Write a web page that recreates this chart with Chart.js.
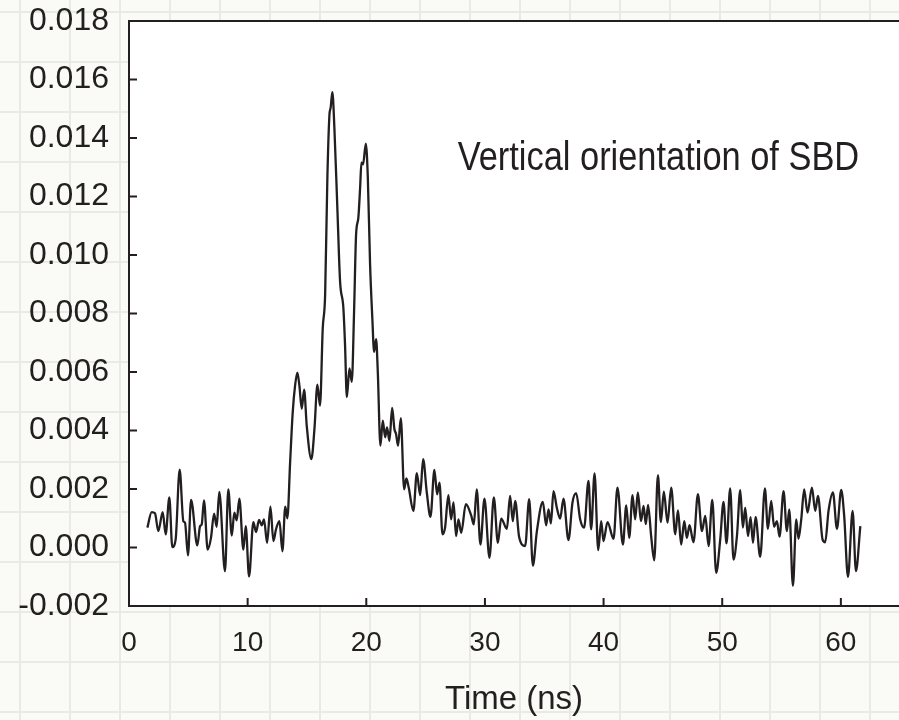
<!DOCTYPE html>
<html>
<head>
<meta charset="utf-8">
<title>SBD signal</title>
<script src="https://cdn.jsdelivr.net/npm/chart.js@4.4.1/dist/chart.umd.min.js"></script>
<style>
  html, body { margin: 0; padding: 0; overflow: hidden; }
  body {
    width: 899px;
    height: 720px;
    /* graph paper behind the figure */
    background-color: #fafaf6;
    background-image:
      linear-gradient(to right, #eaeae4 2px, transparent 2px),
      linear-gradient(to bottom, #eaeae4 2px, transparent 2px);
    background-size: 50px 50px;
    background-position: 19px 11px;
  }
  #wrap { position: relative; width: 899px; height: 720px; }
</style>
</head>
<body>
<div id="wrap"><canvas id="sbdChart"></canvas></div>
<script>
// --- Data ---
const TIME_NS = [
  1.55, 1.91, 2.19, 2.47, 2.84, 3.09, 3.40, 3.65, 3.93, 4.27, 4.58, 4.72, 4.97, 5.23, 5.76, 5.99,
  6.13, 6.32, 6.63, 6.91, 7.17, 7.39, 7.61, 8.09, 8.37, 8.66, 8.88, 9.08, 9.30, 9.64, 9.84, 10.12,
  10.48, 10.71, 10.96, 11.19, 11.38, 11.64, 11.92, 12.17, 12.39, 12.68, 12.93, 13.17, 13.35,
  13.58, 13.80, 14.00, 14.19, 14.36, 14.56, 14.76, 14.98, 15.37, 15.63, 15.88, 16.10, 16.33,
  16.53, 16.72, 16.89, 17.00, 17.14, 17.31, 17.57, 17.79, 18.07, 18.21, 18.36, 18.58, 18.78,
  18.97, 19.14, 19.33, 19.48, 19.59, 19.73, 19.96, 20.13, 20.32, 20.51, 20.66, 20.83, 20.97,
  21.19, 21.39, 21.59, 21.75, 21.95, 22.18, 22.37, 22.51, 22.68, 22.91, 23.19, 23.38, 23.58,
  23.97, 24.26, 24.54, 24.79, 25.10, 25.41, 25.74, 25.97, 26.17, 26.42, 26.64, 26.92, 27.15,
  27.35, 27.57, 27.77, 28.00, 28.39, 28.84, 29.06, 29.31, 29.62, 29.96, 30.38, 30.75, 31.09,
  31.37, 31.85, 32.12, 32.35, 32.55, 32.88, 33.39, 33.73, 34.04, 34.38, 34.88, 35.16, 35.36,
  35.56, 35.78, 36.06, 36.34, 36.62, 37.04, 37.38, 37.69, 38.03, 38.36, 38.73, 38.95, 39.24,
  39.55, 39.80, 39.99, 40.33, 40.84, 41.17, 41.63, 41.91, 42.16, 42.44, 42.66, 42.89, 43.15,
  43.37, 43.56, 43.75, 44.01, 44.27, 44.58, 44.83, 45.08, 45.39, 45.70, 46.04, 46.27, 46.54,
  46.80, 47.02, 47.24, 47.58, 47.95, 48.29, 48.57, 48.85, 49.16, 49.49, 49.83, 50.11, 50.36,
  50.67, 50.95, 51.24, 51.52, 51.74, 51.94, 52.17, 52.39, 52.59, 52.81, 53.20, 53.60, 53.85,
  54.13, 54.37, 54.61, 54.83, 55.17, 55.45, 55.65, 55.96, 56.24, 56.43, 56.66, 56.91, 57.19,
  57.56, 57.84, 58.07, 58.46, 58.68, 58.96, 59.33, 59.67, 60.03, 60.28, 60.60, 60.99, 61.27, 61.64
];
const SIGNAL = [
  0.00068, 0.00121, 0.00117, 0.00056, 0.00121, 0.00045, 0.00171, 0.00001, 0.00027, 0.00266,
  0.00090, 0.00085, -0.00027, 0.00163, 0.00007, 0.00073, 0.00079, 0.00161, -0.00007, 0.00033,
  0.00116, 0.00071, 0.00190, -0.00081, 0.00199, 0.00041, 0.00119, 0.00093, 0.00167, -0.00007,
  0.00073, -0.00099, 0.00087, 0.00053, 0.00094, 0.00076, 0.00096, 0.00016, 0.00140, 0.00022,
  0.00062, 0.00090, -0.00013, 0.00140, 0.00100,
  0.00291, 0.00463, 0.00554, 0.00598, 0.00554, 0.00474, 0.00540, 0.00417, 0.00302, 0.00405,
  0.00557, 0.00485, 0.00749, 0.00863, 0.01264, 0.01476, 0.01505, 0.01557, 0.01436, 0.01150,
  0.00910, 0.00818, 0.00692, 0.00514, 0.00612, 0.00566, 0.00806, 0.01070, 0.01127, 0.01230,
  0.01316, 0.01310, 0.01381, 0.01264, 0.00967, 0.00783, 0.00669, 0.00712, 0.00600, 0.00348,
  0.00434, 0.00377, 0.00411, 0.00365, 0.00477, 0.00405, 0.00388, 0.00348, 0.00442, 0.00199,
  0.00236, 0.00204, 0.00125, 0.00254, 0.00179, 0.00302, 0.00188, 0.00105, 0.00265, 0.00182,
  0.00222, 0.00045, 0.00068, 0.00179, 0.00096, 0.00154, 0.00039, 0.00096, 0.00050, 0.00148,
  0.00110, 0.00079, 0.00199, 0.00010, 0.00167, -0.00035, 0.00171, 0.00016, 0.00099, 0.00064,
  0.00176, 0.00090, 0.00159, 0.00037, 0.00005, 0.00165, -0.00062, 0.00056, 0.00156, 0.00076,
  0.00130, 0.00082, 0.00193, 0.00136, 0.00099, 0.00167, 0.00025, 0.00154, 0.00186, 0.00096,
  0.00068, 0.00228, 0.00062, 0.00253, -0.00009, 0.00090, 0.00022, 0.00087, 0.00030, 0.00205,
  0.00010, 0.00144, 0.00033, 0.00179, 0.00096, 0.00188, 0.00090, 0.00142, 0.00080, 0.00146,
  0.00039, -0.00044, 0.00247, 0.00087, 0.00191, 0.00085, 0.00205, 0.00045, 0.00127, 0.00010,
  0.00090, 0.00033, 0.00076, 0.00018, 0.00182, 0.00056, 0.00108, 0.00005, 0.00163, -0.00087,
  0.00027, 0.00156, 0.00014, 0.00202, -0.00041, 0.00039, 0.00196, 0.00068, 0.00136, 0.00039,
  0.00104, 0.00016, 0.00105, -0.00032, 0.00202, 0.00064, 0.00159, 0.00071, 0.00090, 0.00037,
  0.00193, 0.00056, 0.00130, -0.00131, 0.00096, 0.00030, 0.00096, 0.00199, 0.00119, 0.00205,
  0.00125, 0.00176, 0.00027, 0.00018, 0.00125, 0.00188, 0.00064, 0.00197, 0.00108, -0.00101,
  0.00125, -0.00081, 0.00073
];

// Axis ticks
const X_TICKS = [0, 10, 20, 30, 40, 50, 60];
const Y_TICKS = [-0.002, 0.000, 0.002, 0.004, 0.006, 0.008, 0.010, 0.012, 0.014, 0.016, 0.018];

// Label in the plot
const NOTE_TEXT = 'Vertical orientation of SBD';
const NOTE_AT = { x: 27.7, y: 0.0129 };

const INK = '#231f20';
const FONT = '"Liberation Sans", Arial, sans-serif';

// White plot area, top edge, inward tick marks and the note
const frameAndNote = {
  id: 'frameAndNote',
  beforeDraw(chart) {
    const { ctx, chartArea: a } = chart;
    ctx.save();
    ctx.fillStyle = '#ffffff';
    ctx.fillRect(a.left, a.top, a.right - a.left, a.bottom - a.top);
    ctx.restore();
  },
  afterDraw(chart) {
    const { ctx, chartArea: a, scales } = chart;
    ctx.save();
    ctx.strokeStyle = INK;
    ctx.lineWidth = 2;
    ctx.beginPath();
    ctx.moveTo(a.left - 1, a.top);
    ctx.lineTo(a.right, a.top);
    scales.x.ticks.forEach(t => {
      const px = scales.x.getPixelForValue(t.value);
      if (px <= a.left + 1) return;
      ctx.moveTo(px, a.bottom);
      ctx.lineTo(px, a.bottom - 8);
    });
    scales.y.ticks.forEach(t => {
      const py = scales.y.getPixelForValue(t.value);
      if (py <= a.top + 1 || py >= a.bottom - 1) return;
      ctx.moveTo(a.left, py);
      ctx.lineTo(a.left + 8, py);
    });
    ctx.stroke();

    // narrow-looking text: squeeze it horizontally
    const nx = scales.x.getPixelForValue(NOTE_AT.x);
    const ny = scales.y.getPixelForValue(NOTE_AT.y);
    ctx.translate(nx, ny);
    ctx.scale(0.86, 1);
    ctx.fillStyle = INK;
    ctx.font = '40px ' + FONT;
    ctx.textAlign = 'left';
    ctx.textBaseline = 'alphabetic';
    ctx.fillText(NOTE_TEXT, 0, 0);
    ctx.restore();
  }
};

const points = TIME_NS.map((t, i) => ({ x: t, y: SIGNAL[i] }));

new Chart(document.getElementById('sbdChart'), {
  type: 'line',
  data: {
    datasets: [{
      data: points,
      borderColor: INK,
      borderWidth: 2.3,
      pointRadius: 0,
      fill: false,
      cubicInterpolationMode: 'monotone'
    }]
  },
  options: {
    responsive: true,
    maintainAspectRatio: false,
    animation: false,
    layout: { padding: { top: 21, left: 0, right: 0, bottom: 0 } },
    plugins: {
      legend: { display: false },
      tooltip: { enabled: false }
    },
    scales: {
      x: {
        type: 'linear',
        min: 0,
        max: 64.9,
        afterBuildTicks: scale => { scale.ticks = X_TICKS.map(v => ({ value: v })); },
        afterFit: scale => {
          scale.height = 114;
          scale.paddingLeft = 0;
          scale.paddingRight = 0;
        },
        grid: { display: false, drawTicks: false },
        border: { display: true, color: INK, width: 2 },
        ticks: {
          color: INK,
          font: { family: FONT, size: 28 },
          padding: 20,
          maxRotation: 0,
          callback: v => String(v)
        },
        title: {
          display: true,
          text: 'Time (ns)',
          color: INK,
          font: { family: FONT, size: 33 },
          padding: { top: 0, bottom: 0 }
        }
      },
      y: {
        min: -0.002,
        max: 0.018,
        afterBuildTicks: scale => { scale.ticks = Y_TICKS.map(v => ({ value: v })); },
        afterFit: scale => {
          scale.width = 129;
          scale.paddingTop = 0;
          scale.paddingBottom = 0;
        },
        grid: { display: false, drawTicks: false },
        border: { display: true, color: INK, width: 2 },
        ticks: {
          color: INK,
          font: { family: FONT, size: 32 },
          padding: 20,
          callback: v => Number(v).toFixed(3)
        }
      }
    }
  },
  plugins: [frameAndNote]
});
</script>
</body>
</html>
